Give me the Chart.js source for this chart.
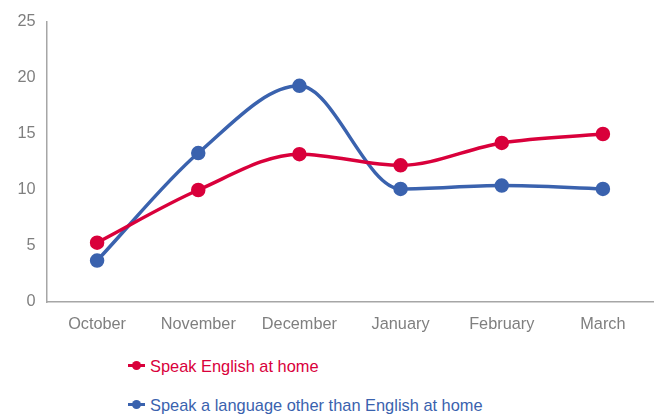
<!DOCTYPE html>
<html>
<head>
<meta charset="utf-8">
<script src="https://cdn.jsdelivr.net/npm/chart.js@4/dist/chart.umd.min.js"></script>
<style>
  html, body { margin: 0; padding: 0; background: #fff; overflow: hidden; }
  #wrap { position: relative; width: 656px; height: 415px; font-family: "Liberation Sans", Arial, sans-serif; }
  #c { position: absolute; left: 0; top: 0; }
  .leg { position: absolute; left: 128px; font-size: 16.4px; line-height: 20px; height: 20px; white-space: nowrap; }
  .mk { position: absolute; left: 0; top: 8px; width: 17px; height: 3px; }
  .dot { position: absolute; left: 4px; top: -3px; width: 9px; height: 9px; border-radius: 50%; }
  .lt { position: absolute; left: 22px; top: 0; }
</style>
</head>
<body>
<div id="wrap">
  <canvas id="c" width="656" height="345"></canvas>
  <div class="leg" id="leg0" style="top:356px"></div>
  <div class="leg" id="leg1" style="top:395px"></div>
</div>
<script>
const categories = ["October", "November", "December", "January", "February", "March"];
const seriesNames = ["Speak English at home", "Speak a language other than English at home"];
const englishValues = [5.3, 10.0, 13.2, 12.2, 14.2, 15.0];
const otherValues = [3.7, 13.3, 19.3, 10.1, 10.4, 10.1];
const yTicks = [0, 5, 10, 15, 20, 25];
const colors = ["#d9003b", "#3a62ae"];

[0, 1].forEach(i => {
  const el = document.getElementById("leg" + i);
  el.style.color = colors[i];
  el.innerHTML = '<span class="mk" style="background:' + colors[i] + '"><span class="dot" style="background:' + colors[i] + '"></span></span><span class="lt"></span>';
  el.querySelector(".lt").textContent = seriesNames[i];
});

const font = { family: "'Liberation Sans', Arial, sans-serif", size: 16.3 };
new Chart(document.getElementById("c"), {
  type: "line",
  data: {
    labels: categories,
    datasets: [
      { label: seriesNames[0], data: englishValues, borderColor: colors[0], backgroundColor: colors[0],
        borderWidth: 3.5, pointRadius: 5.5, pointHoverRadius: 5.5, cubicInterpolationMode: "monotone", fill: false, clip: false },
      { label: seriesNames[1], data: otherValues, borderColor: colors[1], backgroundColor: colors[1],
        borderWidth: 3.5, pointRadius: 5.5, pointHoverRadius: 5.5, cubicInterpolationMode: "monotone", fill: false, clip: false }
    ]
  },
  options: {
    responsive: false,
    animation: false,
    layout: { autoPadding: false, padding: { top: 22, right: 2.5, bottom: 3, left: 0 } },
    plugins: { legend: { display: false }, tooltip: { enabled: false } },
    scales: {
      x: {
        offset: true,
        grid: { display: false, drawTicks: false },
        border: { display: true, color: "#a6a6a6", width: 1.5 },
        ticks: { color: "#7f7f7f", font: font, padding: 13, maxRotation: 0 },
        afterFit: s => { s.height = 40; s.paddingLeft = 0; s.paddingRight = 0; }
      },
      y: {
        min: 0, max: 25,
        afterBuildTicks: s => { s.ticks = yTicks.map(v => ({ value: v })); },
        grid: { display: false, drawTicks: false },
        border: { display: true, color: "#a6a6a6", width: 1.5 },
        ticks: { color: "#7f7f7f", font: font, padding: 11 },
        afterFit: s => { s.width = 46.5; }
      }
    }
  }
});
</script>
</body>
</html>
